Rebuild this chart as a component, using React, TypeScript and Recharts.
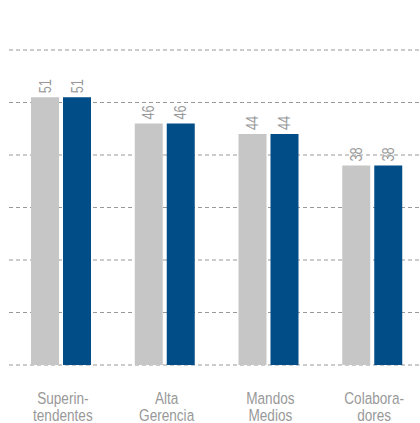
import { BarChart, Bar, XAxis, YAxis, CartesianGrid, LabelList } from "recharts"

const categories = ["Superin-\ntendentes", "Alta\nGerencia", "Mandos\nMedios", "Colabora-\ndores"]
const seriesA = [51, 46, 44, 38]
const seriesB = [51, 46, 44, 38]
const yTicks = [0, 10, 20, 30, 40, 50, 60]

const data = categories.map((name, i) => ({ name, a: seriesA[i], b: seriesB[i] }))

const FONT = '"Liberation Sans", Arial, sans-serif'
const TEXT = "#999"
// squeeze glyphs horizontally to get a condensed look
const NARROW = 0.8

const CategoryTick = (props: any) => {
  const { x, y, payload } = props
  const lines = String(payload.value).split("\n")
  return (
    <g transform={`translate(${x + 2} ${y}) scale(${NARROW} 1)`}>
      {lines.map((line, i) => (
        <text key={i} x={0} y={31 + i * 17.5} textAnchor="middle" fill={TEXT} fontFamily={FONT} fontSize={17}>
          {line}
        </text>
      ))}
    </g>
  )
}

const ValueLabel = (props: any) => {
  const { x, y, width, value } = props
  const cx = x + width / 2
  const ty = y - 4
  return (
    <g transform={`translate(${cx} ${ty}) rotate(-90) scale(${NARROW} 1)`}>
      <text x={0} y={0} textAnchor="start" dominantBaseline="central" fill={TEXT} fontFamily={FONT} fontSize={16}>
        {value}
      </text>
    </g>
  )
}

export default function App() {
  return (
    <div style={{ position: "absolute", left: 0, top: 0, width: 420, height: 423, overflow: "hidden", background: "#fff" }}>
      <BarChart
        width={424}
        height={423}
        data={data}
        margin={{ top: 50, right: 0, bottom: 0, left: 9 }}
        barGap={4}
        barSize={28}
      >
        <CartesianGrid vertical={false} stroke="#999" strokeDasharray="4 3" />
        <XAxis
          dataKey="name"
          axisLine={false}
          tickLine={false}
          height={58}
          interval={0}
          tick={<CategoryTick />}
        />
        <YAxis hide domain={[0, 60]} ticks={yTicks} />
        <Bar dataKey="a" fill="#c6c6c6" isAnimationActive={false}>
          <LabelList dataKey="a" content={<ValueLabel />} />
        </Bar>
        <Bar dataKey="b" fill="#004d87" isAnimationActive={false}>
          <LabelList dataKey="b" content={<ValueLabel />} />
        </Bar>
      </BarChart>
    </div>
  )
}
